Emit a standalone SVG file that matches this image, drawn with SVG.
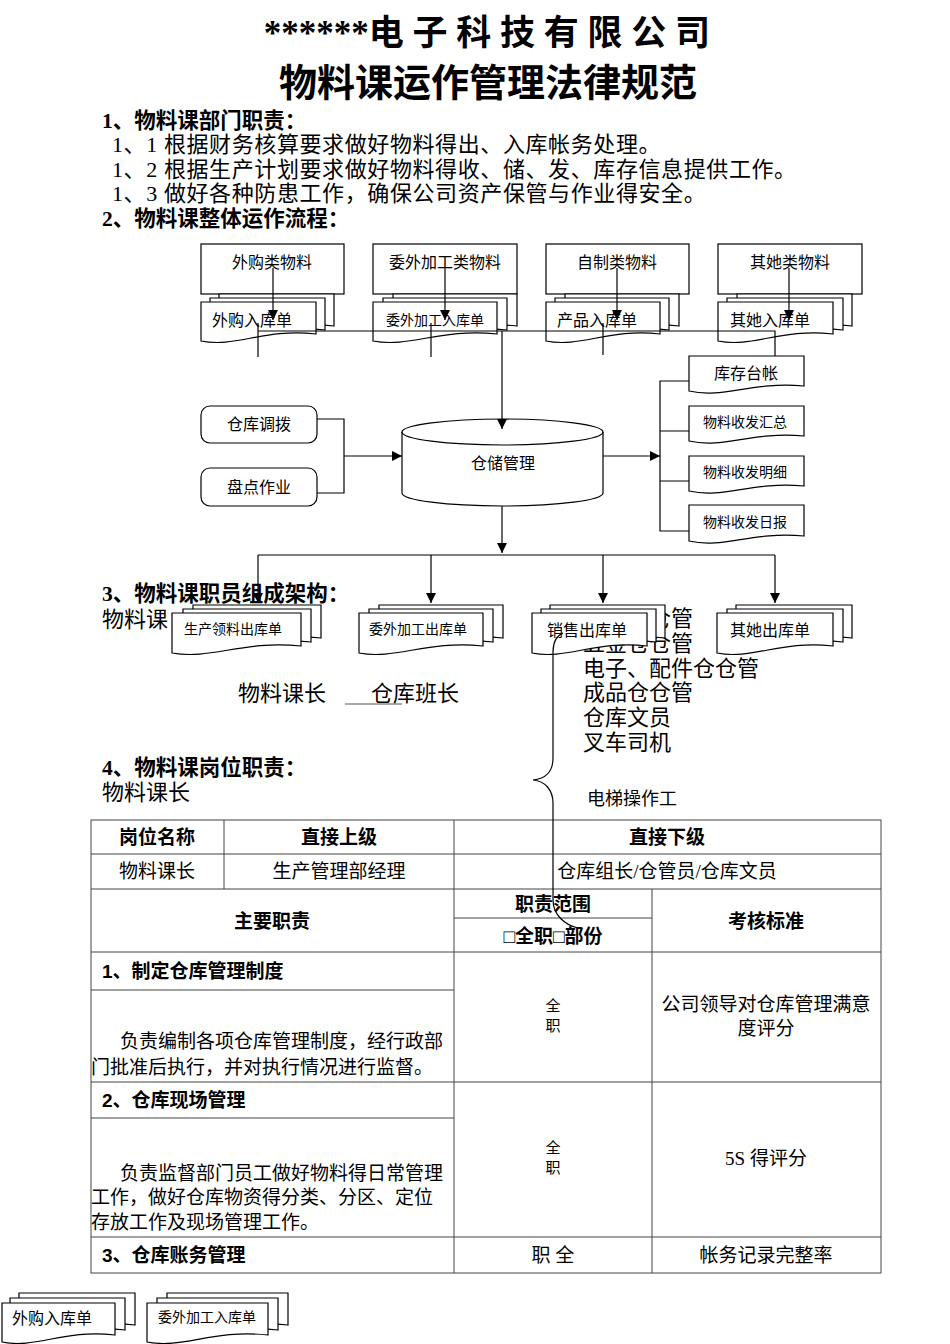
<svg xmlns="http://www.w3.org/2000/svg" width="950" height="1344" viewBox="0 0 950 1344">
<style>
text{font-family:"Liberation Serif","Noto Sans CJK SC",serif;fill:#000}
.b{font-weight:bold}
.ss{font-family:"Liberation Sans","Noto Sans CJK SC",sans-serif}
.sh{stroke:#000;stroke-width:1.2;fill:#fff}
.ln{stroke:#000;stroke-width:1.2;fill:none}
.tb{stroke:#444;stroke-width:1;fill:none}
.c{text-anchor:middle}
.f16{font-size:16px}.f14{font-size:14px}.f19{font-size:19px}.f22{font-size:22px}.f21{font-size:21.5px}
</style>
<defs>
<marker id="ah" viewBox="0 0 10 10" refX="10" refY="5" markerWidth="10" markerHeight="10" markerUnits="userSpaceOnUse" orient="auto"><path d="M0,0 L10,5 L0,10 Z" fill="#000"/></marker>
</defs>
<rect width="950" height="1344" fill="#fff"/>

<g id="headings">
<text x="487" y="45" class="b c" font-size="35">******电 子 科 技 有 限 公 司</text>
<text x="488" y="96" class="b c" font-size="38">物料课运作管理法律规范</text>
<text x="102" y="128" class="b f21">1、物料课部门职责：</text>
<text x="112" y="152" class="f22" letter-spacing="0.6">1、1  根据财务核算要求做好物料得出、入库帐务处理。</text>
<text x="112" y="177" class="f22" letter-spacing="0.6">1、2  根据生产计划要求做好物料得收、储、发、库存信息提供工作。</text>
<text x="112" y="201" class="f22" letter-spacing="0.6">1、3  做好各种防患工作，确保公司资产保管与作业得安全。</text>
<text x="102" y="226" class="b f21">2、物料课整体运作流程：</text>
<text x="102" y="601" class="b f21">3、物料课职员组成架构：</text>
<text x="102" y="627" class="ss f22">物料课：</text>
<text x="238" y="701" class="ss f22">物料课长</text>
<text x="371" y="701" class="ss f22">仓库班长</text>
<line x1="345" y1="704" x2="402" y2="704" stroke="#555" stroke-width="1.2"/>
<text x="583" y="626" class="ss f22">原料仓仓管</text>
<text x="583" y="651" class="ss f22">五金仓仓管</text>
<text x="583" y="676" class="ss f22">电子、配件仓仓管</text>
<text x="583" y="700" class="ss f22">成品仓仓管</text>
<text x="583" y="725" class="ss f22">仓库文员</text>
<text x="583" y="750" class="ss f22">叉车司机</text>
<text x="102" y="775" class="b f21">4、物料课岗位职责：</text>
<text x="102" y="800" class="ss f22">物料课长</text>
<text x="587" y="805" class="ss" font-size="18">电梯操作工</text>
</g>

<g id="n-waigou-lei"><rect x="201" y="244" width="143" height="50" class="sh"/><text x="272" y="268" class="ss c f16">外购类物料</text></g>
<g id="n-weiwai-lei"><rect x="373" y="244" width="144" height="50" class="sh"/><text x="445" y="268" class="ss c f16">委外加工类物料</text></g>
<g id="n-zizhi-lei"><rect x="546" y="244" width="143" height="50" class="sh"/><text x="617" y="268" class="ss c f16">自制类物料</text></g>
<g id="n-qita-lei"><rect x="718" y="244" width="144" height="50" class="sh"/><text x="790" y="268" class="ss c f16">其她类物料</text></g>

<g id="n-waigou-ruku">
<path class="sh" d="M219,294 H334 V326 C282,320 254,340 219,333 Z"/>
<path class="sh" d="M210,298 H325 V330 C273,324 245,344 210,337 Z"/>
<path class="sh" d="M201,302 H316 V334 C264,328 236,348 201,341 Z"/>
<text x="212" y="326" class="ss f16">外购入库单</text>
</g>
<g id="n-weiwai-ruku">
<path class="sh" d="M393,294 H517 V326 C461,320 430,340 393,333 Z"/>
<path class="sh" d="M383,298 H507 V330 C451,324 420,344 383,337 Z"/>
<path class="sh" d="M373,302 H497 V334 C441,328 410,348 373,341 Z"/>
<text x="386" y="325" class="ss f14">委外加工入库单</text>
</g>
<g id="n-chanpin-ruku">
<path class="sh" d="M565,294 H679 V326 C628,320 600,340 565,333 Z"/>
<path class="sh" d="M555,298 H669 V330 C618,324 590,344 555,337 Z"/>
<path class="sh" d="M546,302 H660 V334 C609,328 581,348 546,341 Z"/>
<text x="557" y="326" class="ss f16">产品入库单</text>
</g>
<g id="n-qita-ruku">
<path class="sh" d="M737,294 H852 V326 C800,320 772,340 737,333 Z"/>
<path class="sh" d="M727,298 H843 V330 C791,324 762,344 727,337 Z"/>
<path class="sh" d="M718,302 H833 V334 C781,328 753,348 718,341 Z"/>
<text x="730" y="326" class="ss f16">其她入库单</text>
</g>

<g id="n-cangku-diaobo"><rect x="201" y="406" width="116" height="37" rx="9" class="sh"/><text x="259" y="430" class="ss c f16">仓库调拨</text></g>
<g id="n-pandian"><rect x="201" y="468" width="116" height="38" rx="9" class="sh"/><text x="259" y="493" class="ss c f16">盘点作业</text></g>

<g id="n-cangchu">
<path class="sh" d="M402,432 A100.5,13 0 0 1 603,432 V493 A100.5,13 0 0 1 402,493 Z"/>
<path class="ln" d="M402,432 A100.5,13 0 0 0 603,432"/>
<text x="503" y="469" class="ss c f16">仓储管理</text>
</g>

<g id="n-kucun-taizhang"><path class="sh" d="M689,356 H804 V386 C752,381 724,399 689,391 Z"/><text x="746" y="379" class="ss c f16">库存台帐</text></g>
<g id="n-huizong"><path class="sh" d="M689,406 H804 V436 C752,431 724,449 689,441 Z"/><text x="745" y="427" class="ss c f14">物料收发汇总</text></g>
<g id="n-mingxi"><path class="sh" d="M689,456 H804 V486 C752,481 724,499 689,491 Z"/><text x="745" y="477" class="ss c f14">物料收发明细</text></g>
<g id="n-ribao"><path class="sh" d="M689,505 H804 V536 C752,531 724,549 689,541 Z"/><text x="745" y="527" class="ss c f14">物料收发日报</text></g>

<g id="n-shengchan-chuku">
<path class="sh" d="M193,605 H321 V638 C263,632 232,652 193,645 Z"/>
<path class="sh" d="M183,609 H311 V642 C253,636 222,656 183,649 Z"/>
<path class="sh" d="M172,613 H301 V646 C243,640 211,660 172,653 Z"/>
<text x="184" y="634" class="ss f14">生产领料出库单</text>
</g>
<g id="n-weiwai-chuku">
<path class="sh" d="M379,605 H503 V638 C447,632 416,652 379,645 Z"/>
<path class="sh" d="M369,609 H493 V642 C437,636 406,656 369,649 Z"/>
<path class="sh" d="M359,613 H483 V646 C427,640 396,660 359,653 Z"/>
<text x="369" y="634" class="ss f14">委外加工出库单</text>
</g>
<g id="n-xiaoshou-chuku">
<path class="sh" d="M550,605 H665 V638 C613,632 585,652 550,645 Z"/>
<path class="sh" d="M541,609 H656 V642 C604,636 576,656 541,649 Z"/>
<path class="sh" d="M532,613 H647 V646 C595,640 567,660 532,653 Z"/>
<text x="547" y="636" class="ss f16">销售出库单</text>
</g>
<g id="n-qita-chuku">
<path class="sh" d="M736,605 H852 V638 C800,632 771,652 736,645 Z"/>
<path class="sh" d="M727,609 H843 V642 C791,636 762,656 727,649 Z"/>
<path class="sh" d="M717,613 H833 V646 C781,640 752,660 717,653 Z"/>
<text x="730" y="636" class="ss f16">其她出库单</text>
</g>

<g id="n-waigou-ruku-2">
<path class="sh" d="M19,1293 H135 V1325 C83,1319 54,1339 19,1332 Z"/>
<path class="sh" d="M10,1298 H125 V1330 C73,1324 45,1344 10,1337 Z"/>
<path class="sh" d="M2,1303 H115 V1335 C64,1329 36,1349 2,1342 Z"/>
<text x="12" y="1324" class="ss f16">外购入库单</text>
</g>
<g id="n-weiwai-ruku-2">
<path class="sh" d="M167,1293 H288 V1325 C233,1319 203,1339 167,1332 Z"/>
<path class="sh" d="M157,1298 H278 V1330 C223,1324 193,1344 157,1337 Z"/>
<path class="sh" d="M147,1303 H268 V1335 C213,1329 183,1349 147,1342 Z"/>
<text x="158" y="1322" class="ss f14">委外加工入库单</text>
</g>

<g id="connectors">
<path class="ln" d="M273,268 V320" marker-end="url(#ah)"/>
<path class="ln" d="M445,268 V320" marker-end="url(#ah)"/>
<path class="ln" d="M617,268 V320" marker-end="url(#ah)"/>
<path class="ln" d="M789,268 V320" marker-end="url(#ah)"/>
<path class="ln" d="M258,331 H775 V356"/>
<path class="ln" d="M258,323 V357 M431,323 V357 M603,323 V355"/>
<path class="ln" d="M502,331 V429" marker-end="url(#ah)"/>
<path class="ln" d="M317,419 H344 V493 H317"/>
<path class="ln" d="M344,456 H402" marker-end="url(#ah)"/>
<path class="ln" d="M603,456 H660" marker-end="url(#ah)"/>
<path class="ln" d="M689,381 H660 V531 H689 M660,431 H689 M660,481 H689"/>
<path class="ln" d="M502,506 V553" marker-end="url(#ah)"/>
<path class="ln" d="M258,555 H775"/>
<path class="ln" d="M258,555 V603" marker-end="url(#ah)"/>
<path class="ln" d="M431,555 V603" marker-end="url(#ah)"/>
<path class="ln" d="M603,555 V603" marker-end="url(#ah)"/>
<path class="ln" d="M775,555 V603" marker-end="url(#ah)"/>
</g>

<g id="table">
<rect x="91" y="820" width="790" height="453" class="tb"/>
<path class="tb" d="M91,854 H881 M91,889 H881 M454,918 H652 M91,952 H881 M91,990 H454 M91,1082 H881 M91,1118 H454 M91,1237 H881 M224,820 V889 M454,820 V1273 M652,889 V1273"/>
<text x="157" y="844" class="b c f19 ss">岗位名称</text>
<text x="339" y="844" class="b c f19 ss">直接上级</text>
<text x="667" y="844" class="b c f19 ss">直接下级</text>
<text x="157" y="878" class="c f19">物料课长</text>
<text x="339" y="878" class="c f19">生产管理部经理</text>
<text x="667" y="878" class="c f19">仓库组长/仓管员/仓库文员</text>
<text x="272" y="928" class="b c f19 ss">主要职责</text>
<text x="553" y="911" class="b c f19 ss">职责范围</text>
<text x="553" y="943" class="b c f19 ss">□全职□部份</text>
<text x="766" y="928" class="b c f19 ss">考核标准</text>
<text x="102" y="978" class="b f19 ss">1、制定仓库管理制度</text>
<text x="120" y="1048" class="f19">负责编制各项仓库管理制度，经行政部</text>
<text x="91" y="1074" class="f19">门批准后执行，并对执行情况进行监督。</text>
<text x="553" y="1011" class="c" font-size="15">全</text>
<text x="553" y="1031" class="c" font-size="15">职</text>
<text x="766" y="1011" class="c f19">公司领导对仓库管理满意</text>
<text x="766" y="1035" class="c f19">度评分</text>
<text x="102" y="1107" class="b f19 ss">2、仓库现场管理</text>
<text x="120" y="1180" class="f19">负责监督部门员工做好物料得日常管理</text>
<text x="91" y="1204" class="f19">工作，做好仓库物资得分类、分区、定位</text>
<text x="91" y="1229" class="f19">存放工作及现场管理工作。</text>
<text x="553" y="1153" class="c" font-size="15">全</text>
<text x="553" y="1173" class="c" font-size="15">职</text>
<text x="766" y="1165" class="c f19">5S 得评分</text>
<text x="102" y="1262" class="b f19 ss">3、仓库账务管理</text>
<text x="553" y="1262" class="c f19">职 全</text>
<text x="766" y="1262" class="c f19">帐务记录完整率</text>
</g>

<g id="brace">
<path class="ln" d="M563,633 C556,636 553,642 553,652 V758 C553,772 545,779 533,780 C545,781 553,790 553,803 V900 C553,915 565,925 578,928"/>
</g>
</svg>
